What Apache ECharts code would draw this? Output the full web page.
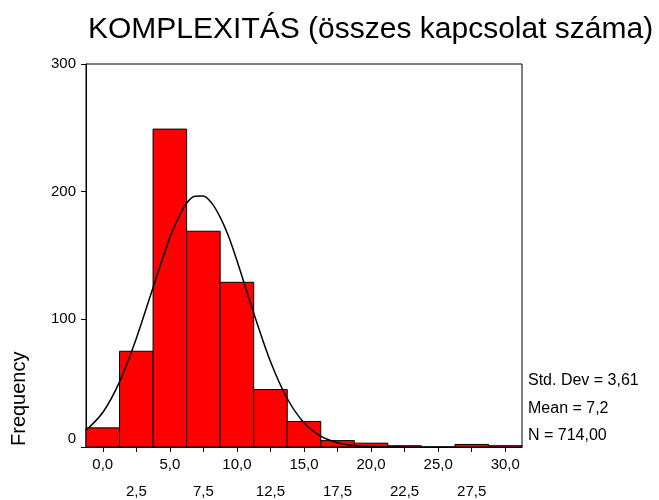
<!DOCTYPE html>
<html>
<head>
    <meta charset="utf-8">
    <title>KOMPLEXITÁS</title>
    <script src="https://cdn.jsdelivr.net/npm/echarts@6.0.0/dist/echarts.min.js"></script>
    <style>
        body { margin: 0; background: #fff; }
        #chart { width: 659px; height: 500px; }
    </style>
</head>
<body>
    <div id="chart"></div>
    <script>
        // histogram data
        var binCenters = [0, 2.5, 5, 7.5, 10, 12.5, 15, 17.5, 20, 22.5, 25, 27.5, 30];
        var binCounts = [15, 75, 249, 169, 129, 45, 20, 5, 3, 1, 0, 2, 1];
        var binWidth = 2.5;

        // normal curve
        var curveX = [-1.25, 0, 1.25, 2.5, 3.75, 5, 5.625, 6.25, 6.875, 7.5, 8.125, 8.75, 9.375, 10, 11.25, 12.5, 13.75, 15, 16.25, 17.5, 18.75, 20, 21.25, 22.5];
        var curveY = [13, 27, 51, 85, 125, 164, 179, 191, 196.5, 196.6, 191, 180, 165, 146, 105, 67, 38, 19, 8.5, 3.4, 1.2, 0.4, 0.1, 0];

        var xTicks = [0, 2.5, 5, 7.5, 10, 12.5, 15, 17.5, 20, 22.5, 25, 27.5, 30];
        var statLines = ['Std. Dev = 3,61', 'Mean = 7,2', 'N = 714,00'];

        var font = 'Liberation Sans, Arial, sans-serif';
        var chart = echarts.init(document.getElementById('chart'));

        var bars = binCenters.map(function (c, i) {
            return [c - binWidth / 2, c + binWidth / 2, binCounts[i]];
        });
        var curve = curveX.map(function (x, i) { return [x, curveY[i]]; });

        var option = {
            animation: false,
            title: {
                text: 'KOMPLEXITÁS (összes kapcsolat száma)',
                left: 83,
                top: 10,
                textStyle: { fontFamily: font, fontSize: 30, fontWeight: 'normal', color: '#000' }
            },
            grid: {
                left: 86, right: 137, top: 64, bottom: 53,
                outerBoundsMode: 'none',
                show: true, borderColor: '#000', borderWidth: 1
            },
            xAxis: {
                type: 'value',
                min: -1.25,
                max: 31.25,
                axisLine: { onZero: false, lineStyle: { color: '#000' } },
                axisTick: { customValues: xTicks, length: 5, lineStyle: { color: '#000' } },
                axisLabel: {
                    customValues: xTicks,
                    margin: 4,
                    lineHeight: 27,
                    fontFamily: font, fontSize: 15, color: '#000',
                    formatter: function (v) {
                        var s = v.toFixed(1).replace('.', ',');
                        return (v % 5 === 0) ? s : '\n' + s;
                    }
                },
                splitLine: { show: false }
            },
            yAxis: {
                type: 'value',
                min: 0,
                max: 300,
                interval: 100,
                axisLine: { show: true, onZero: false, lineStyle: { color: '#000' } },
                axisTick: { show: true, length: 5, lineStyle: { color: '#000' } },
                axisLabel: {
                    margin: 10,
                    fontFamily: font, fontSize: 15, color: '#000',
                    lineHeight: 16,
                    formatter: function (v) { return v === 0 ? '0\n' : String(v); }
                },
                splitLine: { show: false }
            },
            graphic: [
                {
                    type: 'text',
                    x: 9, y: 446,
                    rotation: Math.PI / 2,
                    style: { text: 'Frequency', fontFamily: font, fontSize: 20, fill: '#000' }
                },
                {
                    type: 'text',
                    left: 528, top: 367,
                    style: { text: statLines.join('\n'), lineHeight: 27.5, fontFamily: font, fontSize: 16, fill: '#000' }
                }
            ],
            series: [
                {
                    type: 'custom',
                    data: bars,
                    renderItem: function (params, api) {
                        var p0 = api.coord([api.value(0), api.value(2)]);
                        var p1 = api.coord([api.value(1), 0]);
                        return {
                            type: 'rect',
                            shape: { x: p0[0], y: p0[1], width: p1[0] - p0[0], height: p1[1] - p0[1] },
                            style: { fill: '#ff0000', stroke: '#000', lineWidth: 1 }
                        };
                    }
                },
                {
                    type: 'line',
                    data: curve,
                    smooth: 0.3,
                    showSymbol: false,
                    lineStyle: { color: '#000', width: 1.5 },
                    z: 5
                }
            ]
        };
        chart.setOption(option);
    </script>
</body>
</html>
